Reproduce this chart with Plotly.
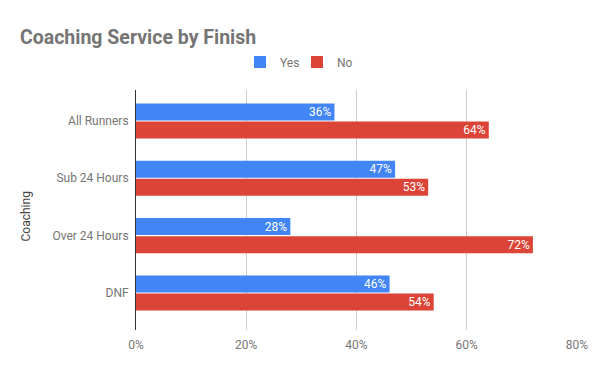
import plotly.graph_objects as go

categories = ["All Runners", "Sub 24 Hours", "Over 24 Hours", "DNF"]
yes_values = [36, 47, 28, 46]
no_values = [64, 53, 72, 54]
x_ticks = [0, 20, 40, 60, 80]

BLUE = "#4285F4"
RED = "#DB4437"
GRAY = "#757575"
FONT = "Roboto"

# page body has an 8px margin, so the figure is laid out 8px smaller
W, H = 592, 363
L, R = 128, 17
PW = W - L - R

fig = go.Figure()
for name, vals, col in (("Yes", yes_values, BLUE), ("No", no_values, RED)):
    fig.add_trace(go.Bar(
        y=categories, x=vals, name=name, orientation="h",
        marker=dict(color=col, line=dict(width=0)),
        text=[f"{v}%" for v in vals], textposition="inside",
        insidetextanchor="end", textangle=0, constraintext="none",
        textfont=dict(color="white", size=12, family=FONT),
    ))

fig.update_layout(
    width=W, height=H,
    margin=dict(l=L, r=R, t=82, b=41),
    paper_bgcolor="white", plot_bgcolor="white",
    font=dict(family=FONT, color=GRAY, size=12),
    barmode="group", bargap=0.37, bargroupgap=0.06,
    uniformtext=dict(minsize=12, mode="show"),
    title=dict(text="<b>Coaching Service by Finish</b>", x=12/W, xref="container",
               xanchor="left", y=1-29/H, yref="container", yanchor="middle",
               font=dict(size=19.5, color=GRAY, family=FONT)),
    legend=dict(orientation="h", x=289/W, xref="container", xanchor="center",
                y=1-54/H, yref="container", yanchor="middle",
                font=dict(size=12, color=GRAY), itemwidth=30, entrywidth=12),
    xaxis=dict(range=[0, 80], tickvals=x_ticks, ticktext=[f"{t}%" for t in x_ticks],
               showgrid=True, gridcolor="#CCCCCC", gridwidth=1,
               zeroline=False, showline=False, ticks="", ticklabelstandoff=6,
               tickfont=dict(size=12, color=GRAY)),
    yaxis=dict(range=[3.646, -0.54], showgrid=False, zeroline=False,
               showline=True, linecolor="#333333", linewidth=1, ticks="",
               tickfont=dict(size=12, color=GRAY), ticklabelstandoff=4),
    annotations=[dict(text="Coaching", textangle=-90, x=(17-L)/PW, xref="paper",
                      y=0.475, yref="paper", showarrow=False, xanchor="center",
                      yanchor="middle", font=dict(size=12, color="#444444"))],
    showlegend=True,
)

fig.write_html("out.html")
